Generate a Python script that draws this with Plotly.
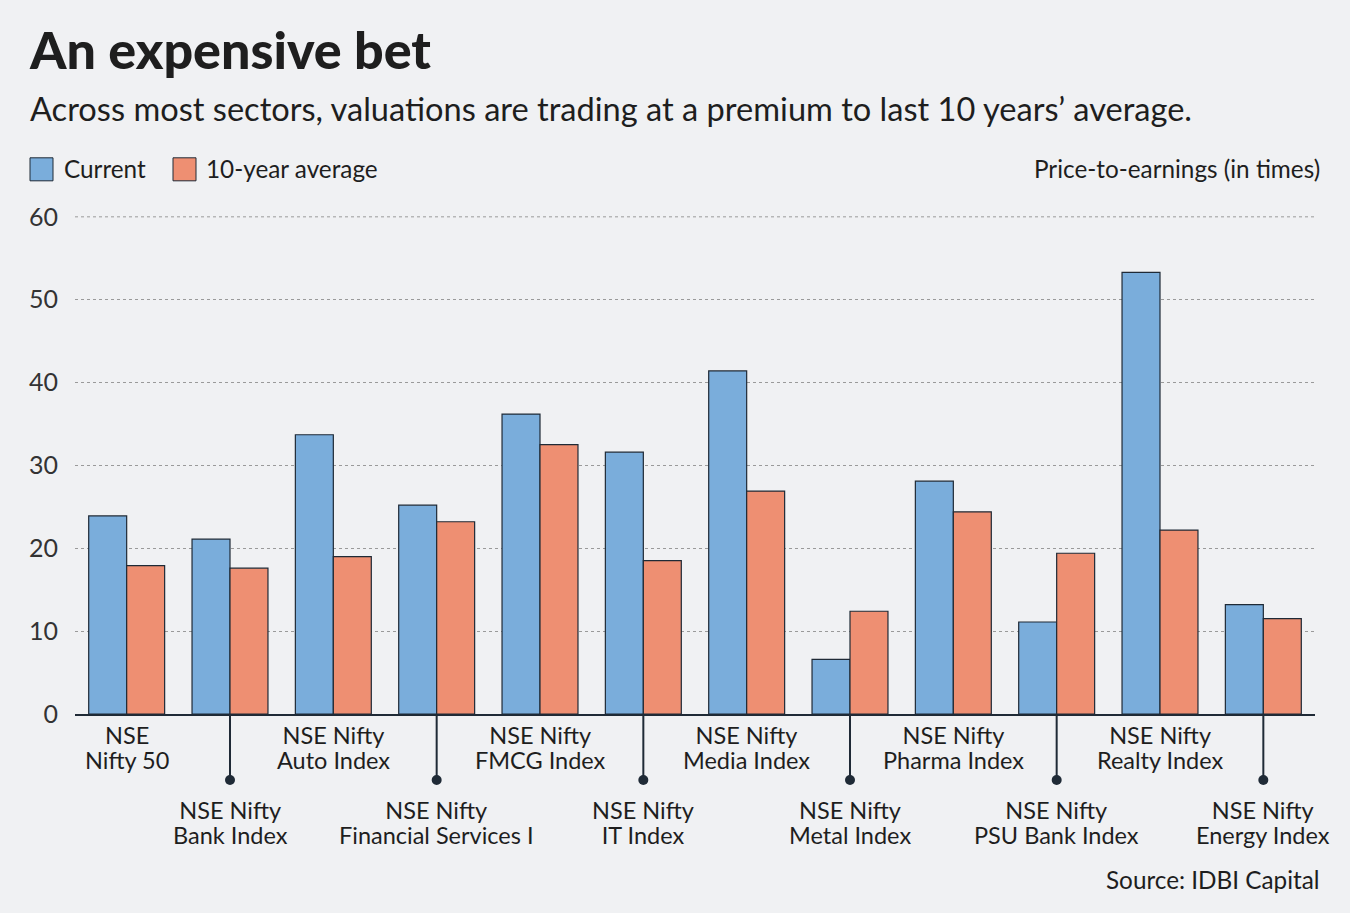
import plotly.graph_objects as go

categories = [
    "NSE<br>Nifty 50",
    "NSE Nifty<br>Bank Index",
    "NSE Nifty<br>Auto Index",
    "NSE Nifty<br>Financial Services I",
    "NSE Nifty<br>FMCG Index",
    "NSE Nifty<br>IT Index",
    "NSE Nifty<br>Media Index",
    "NSE Nifty<br>Metal Index",
    "NSE Nifty<br>Pharma Index",
    "NSE Nifty<br>PSU Bank Index",
    "NSE Nifty<br>Realty Index",
    "NSE Nifty<br>Energy Index",
]
current = [23.9, 21.1, 33.7, 25.2, 36.2, 31.6, 41.4, 6.6, 28.1, 11.1, 53.3, 13.2]
ten_year_avg = [17.9, 17.6, 19.0, 23.2, 32.5, 18.5, 26.9, 12.4, 24.4, 19.4, 22.2, 11.5]
y_ticks = [0, 10, 20, 30, 40, 50, 60]

W, H = 1350, 913
YMAX = 60.1
L, R, B = 75, 35, 199
T = 714 - (714 - 217) * YMAX / 60
PH = H - T - B

BLUE = "#7aaddb"
ORANGE = "#ee8f72"
EDGE = "#1f2a36"
BG = "#f0f1f3"
TXT = "#1e1e1e"
FONT = "Lato"
CAT_SIZE = 23.5
LINE_GAP = 25  # px between label lines

def py(p):
    return (H - B - p) / PH

def px(p):
    return (p - L) / (W - L - R)

x_idx = list(range(len(categories)))

fig = go.Figure()
fig.add_bar(x=x_idx, y=current, name="Current", marker=dict(color=BLUE, line=dict(color=EDGE, width=1.2)))
fig.add_bar(x=x_idx, y=ten_year_avg, name="10-year average", marker=dict(color=ORANGE, line=dict(color=EDGE, width=1.2)))

shapes = []
annotations = []

# dotted gridline at the top value
shapes.append(dict(type="line", xref="paper", yref="y", x0=0, x1=1, y0=60, y1=60,
                   line=dict(color="#9a9a9a", width=1, dash="dot"), layer="below"))

dot_r = 5
unit_px = (W - L - R) / len(categories)
for i, lab in enumerate(categories):
    text = "<br>".join(f'<span style="font-size:{CAT_SIZE}px">{t}</span>' for t in lab.split("<br>"))
    if i % 2 == 0:
        yc = 747.5
    else:
        yc = 822.5
        shapes.append(dict(type="line", xref="x", yref="paper", x0=i, x1=i, y0=py(714), y1=py(780),
                           line=dict(color=EDGE, width=2)))
        shapes.append(dict(type="circle", xref="x", yref="paper",
                           x0=i - dot_r / unit_px, x1=i + dot_r / unit_px,
                           y0=py(780 + dot_r), y1=py(780 - dot_r),
                           fillcolor=EDGE, line=dict(color=EDGE, width=0)))
    annotations.append(dict(x=i, y=py(yc), xref="x", yref="paper", text=text, showarrow=False,
                            xanchor="center", yanchor="middle", align="center",
                            font=dict(family=FONT, size=LINE_GAP / 1.3, color=TXT)))

# legend
shapes.append(dict(type="rect", xref="paper", yref="paper", x0=px(30), x1=px(53), y0=py(181), y1=py(158),
                   fillcolor=BLUE, line=dict(color=EDGE, width=1)))
shapes.append(dict(type="rect", xref="paper", yref="paper", x0=px(173), x1=px(196), y0=py(181), y1=py(158),
                   fillcolor=ORANGE, line=dict(color=EDGE, width=1)))
annotations.append(dict(x=px(62), y=py(169), xref="paper", yref="paper", text="Current", showarrow=False,
                        xanchor="left", yanchor="middle", font=dict(family=FONT, size=24.3, color=TXT)))
annotations.append(dict(x=px(204), y=py(169), xref="paper", yref="paper", text="10-year average", showarrow=False,
                        xanchor="left", yanchor="middle", font=dict(family=FONT, size=24.3, color=TXT)))
annotations.append(dict(x=px(1322), y=py(169), xref="paper", yref="paper", text="Price-to-earnings (in times)",
                        showarrow=False, xanchor="right", yanchor="middle", font=dict(family=FONT, size=24.3, color=TXT)))
annotations.append(dict(x=px(1322), y=py(879), xref="paper", yref="paper", text="Source: IDBI Capital",
                        showarrow=False, xanchor="right", yanchor="middle", font=dict(family=FONT, size=24.3, color=TXT)))
# title & subtitle
annotations.append(dict(x=px(27), y=py(49), xref="paper", yref="paper", text="An expensive bet",
                        showarrow=False, xanchor="left", yanchor="middle",
                        font=dict(family=FONT, size=52, color=TXT, weight=900)))
annotations.append(dict(x=px(28), y=py(109), xref="paper", yref="paper",
                        text="Across most sectors, valuations are trading at a premium to last 10 years\u2019 average.",
                        showarrow=False, xanchor="left", yanchor="middle", font=dict(family=FONT, size=32.6, color=TXT)))

fig.update_layout(
    width=W, height=H,
    margin=dict(l=L, r=R, t=T, b=B, pad=0),
    paper_bgcolor=BG, plot_bgcolor=BG,
    barmode="group", bargap=0.265, bargroupgap=0,
    showlegend=False,
    shapes=shapes, annotations=annotations,
    xaxis=dict(range=[-0.5, 11.5], showticklabels=False, showgrid=False, zeroline=False,
               showline=True, linecolor=EDGE, linewidth=2, ticks=""),
    yaxis=dict(range=[0, YMAX], tickvals=y_ticks, showgrid=True, gridcolor="#9a9a9a", griddash="dot",
               gridwidth=1, zeroline=False, showline=False, ticks="", ticklabelstandoff=16,
               tickfont=dict(family=FONT, size=25, color="#333333")),
    font=dict(family=FONT),
)

fig.write_html(
    "out.html",
    config={"displayModeBar": False},
    post_script="document.body.style.margin='0';document.body.style.background='#f0f1f3';document.body.style.overflow='hidden';",
)
